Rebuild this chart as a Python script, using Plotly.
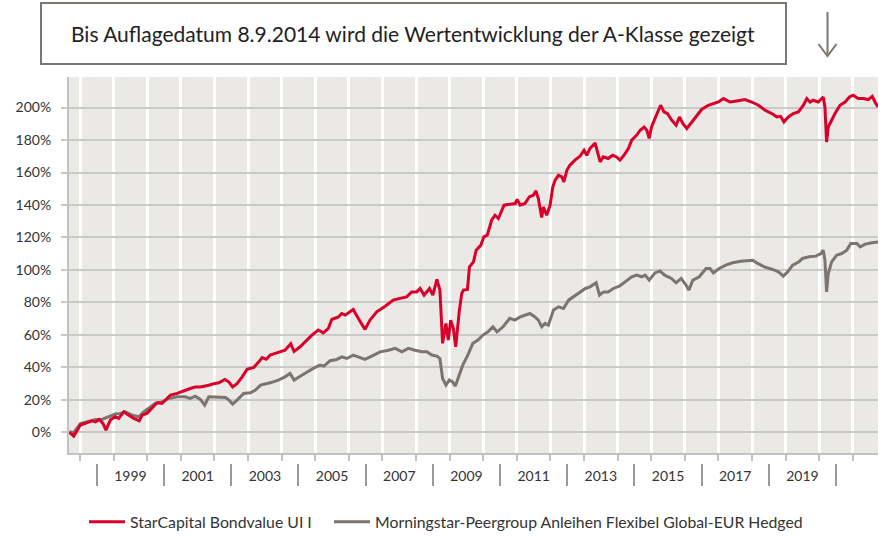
import plotly.graph_objects as go

# ---------------- data (decimal years, % performance) ----------------
star_t = [1997.68, 1997.81, 1998.01, 1998.21, 1998.36, 1998.46, 1998.57, 1998.68, 1998.77, 1998.90,
          1999.05, 1999.15, 1999.30, 1999.45, 1999.60, 1999.76, 1999.85, 1999.99, 2000.09, 2000.29,
          2000.44, 2000.69, 2000.89, 2001.13, 2001.28, 2001.43, 2001.58, 2001.83, 2001.98, 2002.13,
          2002.31, 2002.43, 2002.54, 2002.67, 2002.82, 2002.97, 2003.17, 2003.32, 2003.42, 2003.54,
          2003.66, 2003.81, 2003.95, 2004.10, 2004.27, 2004.37, 2004.55, 2004.70, 2004.90, 2005.09,
          2005.24, 2005.39, 2005.49, 2005.69, 2005.79, 2005.89, 2006.04, 2006.13, 2006.28, 2006.48,
          2006.63, 2006.83, 2007.08, 2007.32, 2007.52, 2007.72, 2007.87, 2008.02, 2008.12, 2008.24,
          2008.40, 2008.50, 2008.62, 2008.71, 2008.79, 2008.89, 2008.96, 2009.03, 2009.11, 2009.18,
          2009.29, 2009.36, 2009.41, 2009.46, 2009.53, 2009.59, 2009.71, 2009.79, 2009.93, 2010.02,
          2010.12, 2010.25, 2010.35, 2010.45, 2010.52, 2010.62, 2010.80, 2010.95, 2011.01, 2011.10,
          2011.24, 2011.37, 2011.49, 2011.57, 2011.64, 2011.74, 2011.79, 2011.89, 2011.99, 2012.07,
          2012.14, 2012.24, 2012.34, 2012.40, 2012.49, 2012.58, 2012.73, 2012.88, 2013.00, 2013.08,
          2013.18, 2013.33, 2013.40, 2013.48, 2013.57, 2013.72, 2013.85, 2013.97, 2014.07, 2014.19,
          2014.32, 2014.42, 2014.57, 2014.67, 2014.79, 2014.87, 2014.94, 2015.01, 2015.11, 2015.21,
          2015.28, 2015.38, 2015.48, 2015.61, 2015.74, 2015.84, 2015.94, 2016.06, 2016.21, 2016.35,
          2016.50, 2016.70, 2016.85, 2017.00, 2017.15, 2017.35, 2017.54, 2017.79, 2017.99, 2018.19,
          2018.39, 2018.59, 2018.74, 2018.85, 2018.95, 2019.08, 2019.23, 2019.38, 2019.53, 2019.63,
          2019.73, 2019.82, 2019.97, 2020.12, 2020.17, 2020.22, 2020.27, 2020.37, 2020.47, 2020.62,
          2020.77, 2020.90, 2021.01, 2021.16, 2021.31, 2021.46, 2021.58, 2021.66, 2021.75]
star_v = [0.0, -2.3, 4.5, 5.9, 7.1, 6.5, 8.0, 5.5, 1.4, 7.6,
          9.6, 8.6, 12.7, 10.6, 8.6, 7.1, 10.6, 11.7, 13.7, 18.2,
          17.8, 23.0, 24.0, 26.0, 27.0, 28.0, 28.0, 29.0, 30.0, 30.5,
          32.6, 31.0, 28.0, 30.0, 34.0, 38.8, 40.0, 43.4, 46.0, 45.0,
          47.6, 48.6, 49.6, 50.6, 54.5, 49.8, 52.7, 55.8, 59.9, 63.0,
          61.3, 64.0, 69.5, 71.1, 73.2, 72.2, 74.2, 75.7, 70.2, 63.4,
          69.1, 74.2, 77.7, 81.4, 82.5, 83.4, 86.5, 86.5, 88.6, 84.5,
          88.6, 84.5, 94.2, 87.6, 54.8, 67.1, 56.8, 69.1, 64.0, 52.7,
          75.3, 85.5, 87.6, 87.6, 88.0, 101.9, 105.0, 112.2, 115.3, 120.4,
          121.4, 130.6, 133.7, 131.7, 134.8, 139.9, 140.5, 140.9, 143.4, 139.9,
          140.9, 145.0, 146.0, 148.7, 144.0, 132.3, 138.8, 133.7, 139.9, 151.1,
          155.3, 158.3, 157.3, 154.2, 161.4, 164.5, 167.6, 170.0, 173.7, 170.6,
          174.8, 178.2, 172.7, 166.5, 169.6, 168.6, 170.6, 169.6, 167.6, 170.6,
          174.8, 179.9, 183.0, 186.0, 188.0, 186.0, 181.0, 188.0, 193.2, 198.3,
          201.4, 197.3, 196.3, 192.2, 189.1, 194.2, 190.2, 187.1, 191.1, 195.3,
          198.8, 201.4, 202.5, 203.4, 205.5, 203.4, 204.0, 204.9, 203.4, 201.4,
          198.3, 196.3, 194.2, 194.6, 191.1, 194.2, 196.3, 197.3, 201.4, 205.5,
          203.4, 204.5, 203.4, 206.5, 200.4, 178.8, 188.0, 192.2, 196.3, 201.4,
          203.4, 206.5, 207.6, 205.5, 205.5, 204.9, 206.9, 203.4, 200.4]

peer_t = [1997.68, 1997.81, 1998.01, 1998.26, 1998.46, 1998.65, 1998.85, 1999.05, 1999.20, 1999.35,
          1999.55, 1999.75, 1999.90, 2000.05, 2000.24, 2000.44, 2000.64, 2000.89, 2001.13, 2001.28,
          2001.43, 2001.58, 2001.71, 2001.83, 2002.03, 2002.18, 2002.33, 2002.43, 2002.54, 2002.67,
          2002.87, 2003.07, 2003.22, 2003.37, 2003.51, 2003.66, 2003.90, 2004.10, 2004.25, 2004.37,
          2004.55, 2004.75, 2004.94, 2005.14, 2005.26, 2005.44, 2005.64, 2005.79, 2005.94, 2006.13,
          2006.33, 2006.48, 2006.68, 2006.93, 2007.18, 2007.38, 2007.58, 2007.77, 2007.97, 2008.17,
          2008.32, 2008.47, 2008.62, 2008.71, 2008.79, 2008.89, 2008.99, 2009.09, 2009.17, 2009.29,
          2009.39, 2009.54, 2009.69, 2009.84, 2009.99, 2010.14, 2010.29, 2010.41, 2010.59, 2010.79,
          2010.94, 2011.10, 2011.24, 2011.39, 2011.54, 2011.64, 2011.74, 2011.84, 2011.94, 2012.09,
          2012.24, 2012.39, 2012.54, 2012.74, 2012.89, 2013.04, 2013.18, 2013.36, 2013.46, 2013.58,
          2013.72, 2013.87, 2014.05, 2014.22, 2014.42, 2014.57, 2014.72, 2014.82, 2014.94, 2015.11,
          2015.26, 2015.40, 2015.60, 2015.74, 2015.89, 2016.04, 2016.12, 2016.24, 2016.43, 2016.63,
          2016.75, 2016.85, 2017.02, 2017.22, 2017.42, 2017.67, 2017.87, 2018.02, 2018.17, 2018.37,
          2018.61, 2018.79, 2018.93, 2019.06, 2019.21, 2019.40, 2019.50, 2019.70, 2019.90, 2020.05,
          2020.12, 2020.17, 2020.22, 2020.27, 2020.37, 2020.52, 2020.67, 2020.82, 2020.94, 2021.12,
          2021.22, 2021.37, 2021.57, 2021.75]
peer_v = [0.4, -0.2, 5.5, 7.1, 8.0, 8.0, 9.6, 11.3, 11.7, 12.7,
          10.6, 9.6, 12.7, 14.8, 17.8, 18.8, 20.9, 21.9, 21.9, 20.9,
          22.3, 20.3, 16.8, 21.9, 21.9, 21.9, 21.5, 19.9, 17.4, 19.9,
          24.0, 24.4, 26.0, 29.1, 29.7, 30.5, 32.2, 34.2, 36.3, 32.2,
          34.6, 37.3, 39.4, 41.4, 40.8, 44.1, 44.9, 46.5, 45.5, 47.6,
          46.2, 44.9, 47.0, 49.6, 50.6, 51.7, 49.6, 51.7, 50.6, 49.6,
          49.6, 47.6, 47.0, 45.5, 33.2, 29.1, 32.2, 31.1, 28.5, 36.3,
          41.4, 47.6, 54.8, 56.8, 59.9, 61.9, 65.0, 61.9, 65.0, 70.2,
          69.1, 71.1, 72.2, 73.2, 71.1, 69.1, 65.0, 67.1, 66.0, 75.3,
          77.3, 76.3, 81.4, 84.5, 86.5, 88.6, 89.6, 92.1, 84.5, 86.5,
          86.5, 88.6, 90.0, 92.7, 95.8, 96.8, 95.8, 96.8, 93.7, 98.2,
          99.4, 96.8, 94.8, 92.1, 94.8, 90.6, 87.6, 93.7, 95.8, 100.9,
          100.9, 98.2, 100.9, 103.0, 104.4, 105.4, 106.0, 106.0, 104.0, 101.9,
          100.3, 98.8, 96.2, 98.8, 103.0, 105.0, 107.1, 108.1, 108.5, 110.1,
          112.2, 106.0, 86.5, 97.8, 105.0, 109.1, 110.1, 112.2, 116.3, 116.3,
          114.2, 115.9, 116.7, 117.3]

series_names = ["StarCapital Bondvalue UI I",
                "Morningstar-Peergroup Anleihen Flexibel Global-EUR Hedged"]
grid_years = list(range(1998, 2022))
label_years = list(range(1999, 2021, 2))
separator_years = [y + 0.5 for y in range(1998, 2022, 2)]
y_ticks = list(range(0, 201, 20))
note_text = "Bis Auflagedatum 8.9.2014 wird die Wertentwicklung der A-Klasse gezeigt"

# ---------------- layout geometry ----------------
W, H = 885, 536
ML, MR, MT, MB = 69, 7, 77, 51
PAPER_BOTTOM = H - MB          # 485
PLOT_BOTTOM = 453
ydom0 = (PAPER_BOTTOM - PLOT_BOTTOM) / (PAPER_BOTTOM - MT)


def px(x):
    return (x - ML) / (W - ML - MR)


def py(y):
    return (PAPER_BOTTOM - y) / (PAPER_BOTTOM - MT)


RED = "#d90029"
GRAY = "#7b746f"
BG = "#ebe9e6"
HGRID = "#c9c9c9"
AXIS = "#c2c2c2"
TXT = "#333333"
FONT = "Lato"

xr = [1997.67, 2021.75]

fig = go.Figure()
fig.add_trace(go.Scatter(x=peer_t, y=peer_v, mode="lines", name=series_names[1],
                         line=dict(color=GRAY, width=3), legendrank=2))
fig.add_trace(go.Scatter(x=star_t, y=star_v, mode="lines", name=series_names[0],
                         line=dict(color=RED, width=3), legendrank=1, legendwidth=194))
# empty helper traces so the label / separator axes get drawn
for ax in ("x2", "x3"):
    fig.add_trace(go.Scatter(x=[xr[0]], y=[None], xaxis=ax, yaxis="y", mode="lines",
                             showlegend=False, hoverinfo="skip"))

fig.update_layout(
    width=W, height=H,
    margin=dict(l=ML, r=MR, t=MT, b=MB, pad=0, autoexpand=False),
    paper_bgcolor="white",
    plot_bgcolor=BG,
    font=dict(family=FONT, size=14, color=TXT),
    showlegend=True,
    legend=dict(orientation="h", xref="container", yref="container",
                x=84 / W, y=(H - 522) / H, xanchor="left", yanchor="middle",
                itemwidth=36,
                font=dict(size=15.8, color=TXT), bgcolor="rgba(0,0,0,0)"),
    xaxis=dict(range=xr, domain=[0, 1], anchor="y",
               tickvals=grid_years, showticklabels=False,
               showgrid=True, gridcolor="white", gridwidth=2.5,
               ticks="outside", ticklen=6, tickcolor=AXIS, tickwidth=2,
               showline=True, linecolor=AXIS, linewidth=2, zeroline=False),
    xaxis2=dict(range=xr, overlaying="x", anchor="free", position=py(466),
                tickmode="array", tickvals=[y + 0.5 for y in label_years],
                ticktext=[str(y) for y in label_years],
                ticks="", showgrid=False, showline=False, zeroline=False,
                tickfont=dict(size=14, color=TXT)),
    xaxis3=dict(range=xr, overlaying="x", anchor="free", position=py(463),
                tickvals=separator_years, showticklabels=False,
                ticks="outside", ticklen=22, tickcolor="#9a9a9a", tickwidth=1.5,
                showgrid=False, showline=False, zeroline=False),
    yaxis=dict(range=[-12.7, 218.8], domain=[ydom0, 1],
               tickmode="array", tickvals=y_ticks,
               ticktext=[f"{v}%" for v in y_ticks],
               showgrid=True, gridcolor=HGRID, gridwidth=1.5,
               ticks="outside", ticklen=6, tickcolor=HGRID, tickwidth=1.5,
               ticklabelstandoff=7,
               showline=True, linecolor=AXIS, linewidth=2, zeroline=False,
               tickfont=dict(size=14, color=TXT)),
)

# note box with text
fig.add_shape(type="rect", xref="paper", yref="paper",
              x0=px(41), x1=px(786), y0=py(64), y1=py(3),
              line=dict(color="#7d7570", width=2), fillcolor="white", layer="above")
fig.add_annotation(xref="paper", yref="paper", x=px(413), y=py(34),
                   text=note_text, showarrow=False, xanchor="center", yanchor="middle",
                   font=dict(family=FONT, size=21, color="#222222"))

# down arrow
arrow_col = "#7d7772"
fig.add_shape(type="line", xref="paper", yref="paper",
              x0=px(827.5), x1=px(827.5), y0=py(12), y1=py(56),
              line=dict(color=arrow_col, width=2))
fig.add_shape(type="path", xref="paper", yref="paper",
              path=f"M {px(818.5)} {py(44)} L {px(827.5)} {py(56)} L {px(836.5)} {py(44)}",
              line=dict(color=arrow_col, width=2))

fig.write_html("out.html", config={"displayModeBar": False},
               post_script="document.body.style.margin='0';document.body.style.padding='0';")
